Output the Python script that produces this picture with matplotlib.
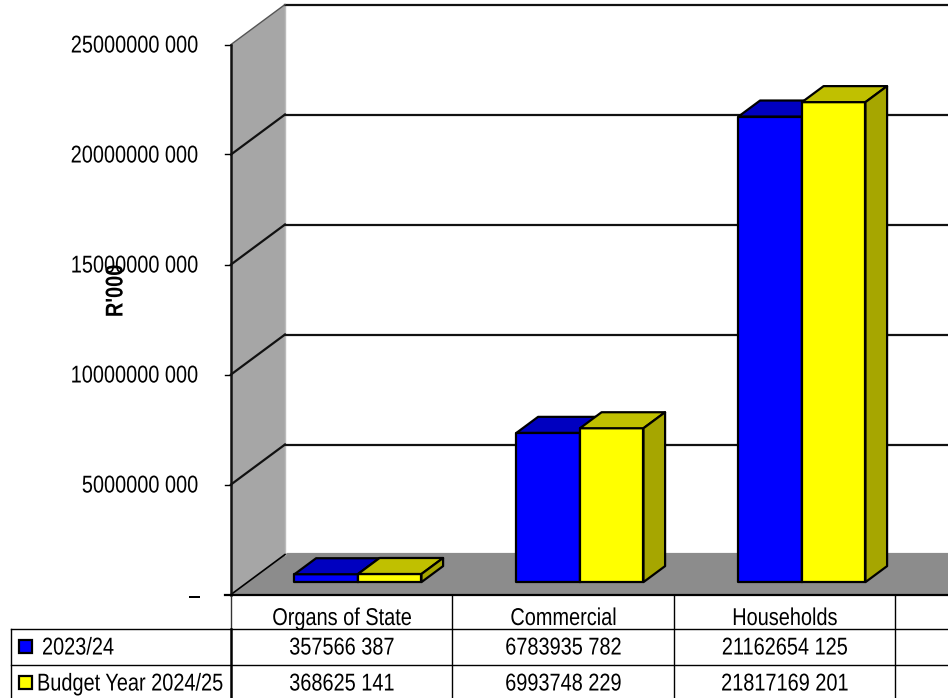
import matplotlib
matplotlib.use("Agg")
import matplotlib.pyplot as plt
from matplotlib.patches import Polygon
from matplotlib.patheffects import AbstractPathEffect
from matplotlib.transforms import Affine2D

categories = ["Organs of State", "Commercial", "Households"]
series_names = ["2023/24", "Budget Year 2024/25"]
values_2023 = [357566387, 6783935782, 21162654125]
values_2024 = [368625141, 6993748229, 21817169201]
value_labels_2023 = ["357566 387", "6783935 782", "21162654 125"]
value_labels_2024 = ["368625 141", "6993748 229", "21817169 201"]
y_ticks = [5000000000, 10000000000, 15000000000, 20000000000, 25000000000]
y_tick_labels = ["5000000 000", "10000000 000", "15000000 000", "20000000 000", "25000000 000"]

plt.rcParams["font.family"] = ["Liberation Sans", "DejaVu Sans"]

W, H = 948, 698
x0_px, y0_px = 231, 594.5
cat_px = 221.5
bar_step = 222 / 221.5
val_per_px = 25000000000 / 550

fig = plt.figure(figsize=(W / 100, H / 100), dpi=100)
ax = fig.add_axes([0, 0, 1, 1])
# one category = 1 x unit, y axis in rand thousands
ax.set_xlim(-x0_px / cat_px, (W - x0_px) / cat_px)
ax.set_ylim(-(H - y0_px) * val_per_px, y0_px * val_per_px)
ax.axis("off")

depth_x = 54 / cat_px
depth_y = 40 * val_per_px
x_end = (W - x0_px) / cat_px + 0.1
y_top = 25000000000


class Squeeze(AbstractPathEffect):
    # the reference text is a horizontally squashed Arial
    def __init__(self, cx, cy, sx=1.0, sy=1.0):
        super().__init__()
        self.cx, self.cy, self.sx, self.sy = cx, cy, sx, sy

    def draw_path(self, renderer, gc, tpath, affine, rgbFace=None):
        t = affine + Affine2D().translate(-self.cx, -self.cy).scale(self.sx, self.sy).translate(self.cx, self.cy)
        renderer.draw_path(gc, tpath, t, rgbFace)


def label(x, y, s, ha="center", rotation=0, weight="normal", z=8):
    t = ax.text(x, y, s, ha=ha, va="center", fontsize=17.5, rotation=rotation, fontweight=weight, color="black", zorder=z)
    cx, cy = ax.transData.transform((x, y))
    if rotation:
        t.set_path_effects([Squeeze(cx, cy, sy=0.82)])
    else:
        t.set_path_effects([Squeeze(cx, cy, sx=0.82)])
    return t


def proj(x, y, d):
    # d is depth 0..1 from front to back wall
    return (x + d * depth_x, y + d * depth_y)


def box(x1, x2, h, front, top, side, z):
    d1, d2 = 0.31, 0.71
    faces = [
        ([proj(x1, 0, d1), proj(x2, 0, d1), proj(x2, h, d1), proj(x1, h, d1)], front),
        ([proj(x1, h, d1), proj(x2, h, d1), proj(x2, h, d2), proj(x1, h, d2)], top),
        ([proj(x2, 0, d1), proj(x2, 0, d2), proj(x2, h, d2), proj(x2, h, d1)], side),
    ]
    for pts, col in faces:
        ax.add_patch(Polygon(pts, closed=True, facecolor=col, edgecolor="black", lw=1.6, zorder=z, joinstyle="round"))


# side wall and floor
ax.add_patch(Polygon([proj(0, 0, 0), proj(0, 0, 1), proj(0, y_top, 1), proj(0, y_top, 0)],
                     facecolor="#a6a6a6", edgecolor="none", zorder=1))
ax.add_patch(Polygon([proj(0, 0, 0), proj(x_end, 0, 0), proj(x_end, 0, 1.04), proj(0, 0, 1.04)],
                     facecolor="#8c8c8c", edgecolor="none", zorder=1))

# gridlines on wall and back
for v in y_ticks:
    p0, p1, p2 = proj(-6 / cat_px, v, 0), proj(0, v, 0), proj(0, v, 1)
    p3 = proj(x_end, v, 1)
    ax.plot([p2[0], p3[0]], [p2[1], p3[1]], color="#111111", lw=1.6, zorder=2)
    # the top edge of the side wall is thin and grey in the reference
    if v == y_top:
        ax.plot([p1[0], p2[0]], [p1[1], p2[1]], color="#555555", lw=1.0, zorder=2)
    else:
        ax.plot([p1[0], p2[0]], [p1[1], p2[1]], color="#111111", lw=1.6, zorder=2)
    ax.plot([p0[0], p1[0]], [p0[1], p1[1]], color="black", lw=1.0, zorder=2)
ax.plot([proj(0, 0, 0)[0], proj(0, 0, 1)[0]], [0, depth_y], color="black", lw=1.2, zorder=2)
ax.plot([proj(0, 0, 1)[0]] * 2, [depth_y, y_top + depth_y], color="#bbbbbb", lw=1.0, zorder=1.5)

# axes and table lines
row1 = -(629 - y0_px) * val_per_px
row2 = -(665 - y0_px) * val_per_px
row3 = -(H + 1 - y0_px) * val_per_px
left = (11 - x0_px) / cat_px
ax.plot([0, 0], [0, y_top], color="#111111", lw=1.8, zorder=3)
ax.plot([0, 0], [0, row1], color="#333333", lw=1.0, zorder=3)
ax.plot([0, 0], [row1, row3], color="black", lw=1.8, zorder=3)
ax.plot([-6 / cat_px, x_end], [0, 0], color="black", lw=1.6, zorder=3)

for r in [row1, row2]:
    ax.plot([left, x_end], [r, r], color="black", lw=1.0, zorder=3)
ax.plot([left, left], [row1, row3], color="black", lw=1.0, zorder=3)
for i in range(1, 4):
    ax.plot([i - 0.5 / cat_px, i - 0.5 / cat_px], [0, row3], color="black", lw=1.0, zorder=3)

# bars
bar_w = 63.5 / cat_px
for i in range(len(categories)):
    x_start = i * bar_step + (1 - 2 * bar_w) / 2 - 0.5 / cat_px
    box(x_start, x_start + bar_w, values_2023[i], "#0000ff", "#0000c0", "#0000a6", 4 + i)
    box(x_start + bar_w, x_start + 2 * bar_w, values_2024[i], "#ffff00", "#c0c000", "#a6a600", 4.5 + i)

# tick labels
lab_x = (199 - x0_px) / cat_px
for v, s in zip(y_ticks, y_tick_labels):
    label(lab_x, v - 2 * val_per_px, s, ha="right")
label((200 - x0_px) / cat_px, -2.5 * val_per_px, "–", ha="right")
label((116 - x0_px) / cat_px, (y0_px - 291) * val_per_px, "R'000", rotation=90, weight="bold", z=9)

# table text
y_cat = -(619 - y0_px) * val_per_px
y_r1 = -(648.5 - y0_px) * val_per_px
y_r2 = -(684.5 - y0_px) * val_per_px
for i, c in enumerate(categories):
    label(i + 0.5, y_cat, c)
    label(i + 0.5, y_r1, value_labels_2023[i])
    label(i + 0.5, y_r2, value_labels_2024[i])

label((42 - x0_px) / cat_px, y_r1, series_names[0], ha="left")
label((37 - x0_px) / cat_px, y_r2, series_names[1], ha="left")

# legend keys
for y_mid, col in [(646.5, "#0000ff"), (682.5, "#ffff00")]:
    xa, xb = (19 - x0_px) / cat_px, (32 - x0_px) / cat_px
    ya, yb = -(y_mid - 6.5 - y0_px) * val_per_px, -(y_mid + 6.5 - y0_px) * val_per_px
    ax.add_patch(Polygon([(xa, ya), (xb, ya), (xb, yb), (xa, yb)], facecolor=col, edgecolor="black", lw=1.6, zorder=8))

fig.savefig("out.png", dpi=100)
plt.close(fig)
